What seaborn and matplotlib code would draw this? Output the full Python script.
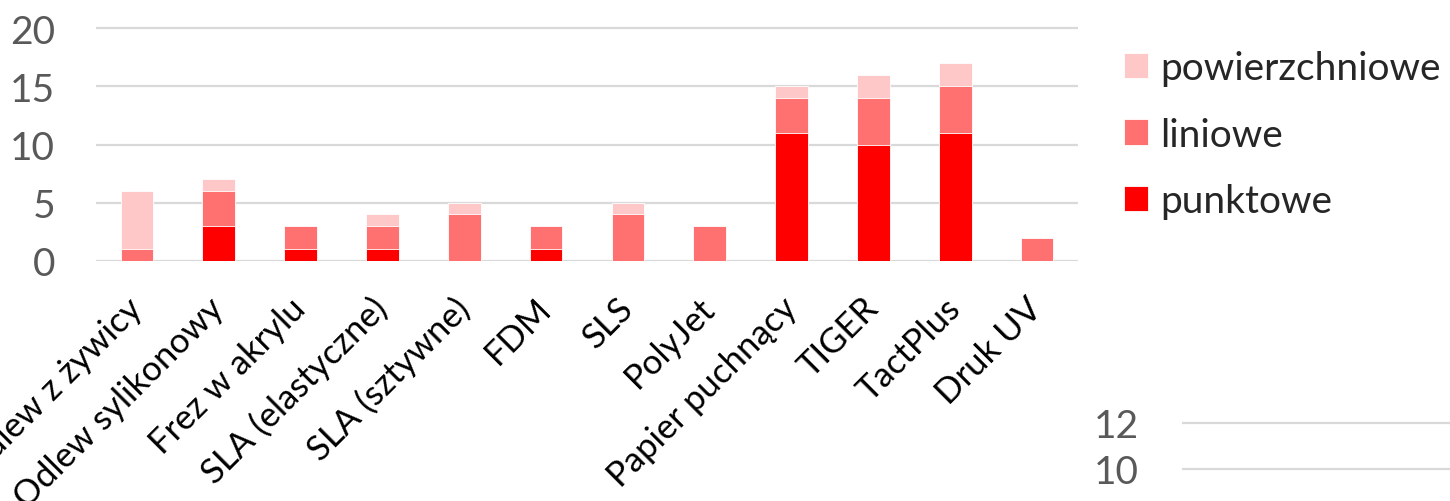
import matplotlib
matplotlib.use("Agg")
import matplotlib.pyplot as plt
import seaborn as sns
import numpy as np
import pandas as pd

categories = ["Odlew z żywicy", "Odlew sylikonowy", "Frez w akrylu", "SLA (elastyczne)",
              "SLA (sztywne)", "FDM", "SLS", "PolyJet", "Papier puchnący", "TIGER",
              "TactPlus", "Druk UV"]
punktowe = [0, 3, 1, 1, 0, 1, 0, 0, 11, 10, 11, 0]
liniowe = [1, 3, 2, 2, 4, 2, 4, 3, 3, 4, 4, 2]
powierzchniowe = [5, 1, 0, 1, 1, 0, 1, 0, 1, 2, 2, 0]
series_names = ["powierzchniowe", "liniowe", "punktowe"]
y_ticks = [0, 5, 10, 15, 20]
second_y_ticks = [0, 2, 4, 6, 8, 10, 12]

colors = {"punktowe": "#FF0000", "liniowe": "#FF7070", "powierzchniowe": "#FFC8C8"}

sns.set_theme(style="white")
plt.rcParams["font.family"] = ["Lato", "DejaVu Sans"]

W, H = 1450, 502
fig = plt.figure(figsize=(W / 100, H / 100), dpi=100)

ppu = (262 - 29) / 20.0
ytop = 20.2
ax_top_px = 262 - ytop * ppu
ax = fig.add_axes([96 / W, 1 - 262 / H, (1078 - 96) / W, (262 - ax_top_px) / H])

p = np.array(punktowe)
l = np.array(liniowe)
s = np.array(powierzchniowe)
totals = {"powierzchniowe": p + l + s, "liniowe": p + l, "punktowe": p}

for name in series_names:
    df = pd.DataFrame({"cat": categories, "val": totals[name]})
    sns.barplot(data=df, x="cat", y="val", color=colors[name], width=0.4,
                saturation=1, label=name, ax=ax, edgecolor="white", linewidth=0.6)

ax.set_ylim(0, ytop)
ax.set_xlim(-0.5, len(categories) - 0.5)
ax.set_yticks(y_ticks)
ax.set_xlabel("")
ax.set_ylabel("")
ax.grid(axis="y", color="#D9D9D9", linewidth=1.6)
ax.set_axisbelow(True)
for sp in ax.spines.values():
    sp.set_visible(False)
ax.tick_params(axis="y", length=0, pad=29.5, labelsize=28, labelcolor="#595959")
ax.tick_params(axis="x", length=0, pad=30, labelsize=25, labelcolor="#000000")
plt.setp(ax.get_xticklabels(), rotation=45, ha="right", va="center",
         rotation_mode="anchor")

leg = ax.legend(loc="upper left", bbox_to_anchor=(1124 / W, 1 - 51 / H),
                bbox_transform=fig.transFigure, frameon=False, fontsize=28,
                handlelength=0.62, handleheight=0.62, handletextpad=0.3,
                labelspacing=0.79, borderpad=0, borderaxespad=0)

# fragment of a second chart at the bottom right
ppu2 = 23.0
y12 = 424
ax2_top = y12 - 1 * ppu2
ax2_bot = y12 + 12 * ppu2
ax2 = fig.add_axes([1182 / W, 1 - ax2_bot / H, (W - 1182) / W + 0.01, (ax2_bot - ax2_top) / H])
ax2.set_ylim(0, 13)
ax2.set_yticks(second_y_ticks)
ax2.set_xticks([])
ax2.grid(axis="y", color="#D9D9D9", linewidth=1.6)
for sp in ax2.spines.values():
    sp.set_visible(False)
ax2.tick_params(axis="y", length=0, pad=31, labelsize=28, labelcolor="#595959")
ax2.patch.set_alpha(0)

fig.savefig("out.png", dpi=100)
